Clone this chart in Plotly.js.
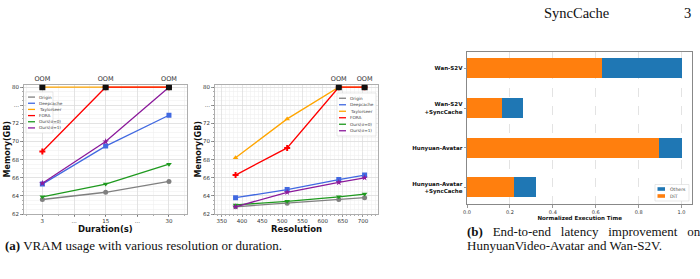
<!DOCTYPE html>
<html>
<head>
<meta charset="utf-8">
<script src="https://cdn.plot.ly/plotly-3.0.1.min.js"></script>
<style>
  html, body { margin: 0; padding: 0; background: #fff; }
  #fig { width: 700px; height: 279px; }
</style>
</head>
<body>
<div id="fig"></div>
<script>
// ---- data -------------------------------------------------------------
const seriesNames = ['Origin', 'Deepcache', 'Taylorseer', 'FORA', 'Ours(σ=0)', 'Ours(σ=1)'];
const seriesColors = ['#808080', '#4169e1', '#ffa500', '#ff0000', '#1f9a1f', '#8b1a9b'];
const seriesSymbols = ['circle', 'square', 'triangle-up', 'cross', 'triangle-down', 'star'];

// 80 GB = out of memory (OOM)
const OOM_GB = 80;

// Memory vs. duration
const durations = ['3', '15', '30'];
const durTickLabels = ['3', '...', '15', '...', '30'];
const memOriginDur     = [63.6, 64.4, 65.6];
const memDeepcacheDur  = [65.3, 69.5, 72.9];
const memTaylorDur     = [80, 80, 80];
const memForaDur       = [68.9, 80, 80];
const memOurs0Dur      = [63.9, 65.3, 67.5];
const memOurs1Dur      = [65.4, 70.0, 80];

// Memory vs. resolution
const resolutions = [384, 512, 640, 704];
const memOriginRes     = [62.8, 63.2, 63.6, 63.8];
const memDeepcacheRes  = [63.8, 64.7, 65.8, 66.3];
const memTaylorRes     = [68.2, 72.5, 80, 80];
const memForaRes       = [66.3, 69.3, 80, 80];
const memOurs0Res      = [63.0, 63.4, 63.9, 64.2];
const memOurs1Res      = [62.8, 64.4, 65.5, 66.0];

// Normalized end-to-end latency
const models = ['Wan-S2V', 'Wan-S2V<br>+SyncCache', 'Hunyuan-Avatar', 'Hunyuan-Avatar<br>+SyncCache'];
const ditTime    = [0.627, 0.165, 0.895, 0.217];
const othersTime = [0.373, 0.095, 0.105, 0.105];

const memTickVals  = [62, 64, 66, 68, 70, 72, 74, 76];
const memTickText  = ['62', '64', '66', '68', '70', '72', '...', '80'];

// ---- helpers ----------------------------------------------------------
const W = 700, H = 279;
const px = x => x / W;
const py = y => 1 - y / H;
// the memory axis is broken between 72 and 80: OOM sits one gap above "..."
const memPos = v => (v >= OOM_GB ? 76 : v);

const durSeries = [memOriginDur, memDeepcacheDur, memTaylorDur, memForaDur, memOurs0Dur, memOurs1Dur];
const resSeries = [memOriginRes, memDeepcacheRes, memTaylorRes, memForaRes, memOurs0Res, memOurs1Res];
const durX = durations.map((d, i) => 2 * i);   // categories sit on every other tick

const traces = [];
function lineTraces(xs, series, xa, ya) {
  series.forEach((vals, k) => {
    traces.push({
      type: 'scatter', mode: 'lines+markers', xaxis: xa, yaxis: ya,
      x: xs, y: vals.map(memPos), name: seriesNames[k], showlegend: false,
      line: { color: seriesColors[k], width: 1.3 },
      marker: { color: seriesColors[k], symbol: seriesSymbols[k], size: 5 },
      hoverinfo: 'skip'
    });
  });
  // black squares at every x where some method runs out of memory
  const oomX = xs.filter((x, i) => series.some(s => s[i] >= OOM_GB));
  traces.push({
    type: 'scatter', mode: 'markers+text', xaxis: xa, yaxis: ya,
    x: oomX, y: oomX.map(() => memPos(OOM_GB)), showlegend: false,
    marker: { color: '#111', symbol: 'square', size: 6 },
    text: oomX.map(() => 'OOM'), textposition: 'top center',
    textfont: { family: 'DejaVu Sans', size: 6.5, color: '#333' },
    cliponaxis: false, hoverinfo: 'skip'
  });
}
lineTraces(durX, durSeries, 'x', 'y');
lineTraces(resolutions, resSeries, 'x2', 'y2');

traces.push({
  type: 'bar', orientation: 'h', xaxis: 'x3', yaxis: 'y3', name: 'DiT',
  x: ditTime, y: models, marker: { color: '#ff7f0e' }, width: 0.5, showlegend: false, hoverinfo: 'skip'
});
traces.push({
  type: 'bar', orientation: 'h', xaxis: 'x3', yaxis: 'y3', name: 'Others',
  x: othersTime, y: models, marker: { color: '#1f77b4' }, width: 0.5, showlegend: false, hoverinfo: 'skip'
});

// ---- axes -------------------------------------------------------------
const tickFont = { family: 'DejaVu Sans', size: 5.5, color: '#333' };
const gridCol = '#dcdcdc', minorCol = '#eeeeee', frameCol = '#9a9a9a';
const plotTop = 84.5, plotBot = 214;
const axisTitleFont = { family: 'DejaVu Sans', size: 8.5, color: '#111' };

function memAxis(anchor) {
  return {
    anchor: anchor, domain: [py(plotBot), py(plotTop)], range: [62, 76.3],
    tickvals: memTickVals, ticktext: memTickText, tickfont: tickFont,
    ticks: 'outside', ticklen: 3, tickcolor: '#555', tickwidth: 0.6,
    showgrid: true, gridcolor: gridCol, gridwidth: 0.7,
    minor: { dtick: 0.5, showgrid: true, gridcolor: minorCol, gridwidth: 0.5, ticks: 'outside', ticklen: 1.5, tickcolor: '#777' },
    showline: true, mirror: true, linecolor: frameCol, linewidth: 0.8,
    zeroline: false, fixedrange: true,
    title: { text: '<b>Memory(GB)</b>', font: { family: 'DejaVu Sans', size: 8, color: '#111' }, standoff: 0 }
  };
}

const layout = {
  width: W, height: H, margin: { l: 0, r: 0, t: 0, b: 0 },
  paper_bgcolor: '#fff', plot_bgcolor: '#fff', showlegend: false,
  barmode: 'stack', bargap: 0.5,
  xaxis: {
    anchor: 'y', domain: [px(24), px(187)], range: [-0.58, 4.57],
    tickvals: [0, 1, 2, 3, 4], ticktext: durTickLabels, tickfont: tickFont,
    ticks: 'outside', ticklen: 2, tickcolor: '#555', tickwidth: 0.6,
    showgrid: true, gridcolor: gridCol, gridwidth: 0.7,
    minor: { dtick: 0.5, showgrid: true, gridcolor: minorCol, gridwidth: 0.5, ticks: 'outside', ticklen: 1.2, tickcolor: '#777' },
    showline: true, mirror: true, linecolor: frameCol, linewidth: 0.8, zeroline: false
  },
  yaxis: memAxis('x'),
  xaxis2: {
    anchor: 'y2', domain: [px(215), px(378.3)], range: [333, 738],
    tick0: 350, dtick: 50, tickfont: tickFont,
    ticks: 'outside', ticklen: 2, tickcolor: '#555', tickwidth: 0.6,
    showgrid: true, gridcolor: gridCol, gridwidth: 0.7,
    minor: { dtick: 10, showgrid: true, gridcolor: minorCol, gridwidth: 0.5, ticks: 'outside', ticklen: 1.2, tickcolor: '#777' },
    showline: true, mirror: true, linecolor: frameCol, linewidth: 0.8, zeroline: false
  },
  yaxis2: memAxis('x2'),
  xaxis3: {
    anchor: 'y3', domain: [px(467), px(692.3)], range: [0, 1.05],
    tick0: 0, dtick: 0.2, tickformat: '.1f', tickfont: { family: 'DejaVu Sans', size: 5, color: '#333' },
    ticks: 'outside', ticklen: 2.5, tickcolor: '#555', tickwidth: 0.6,
    showgrid: true, gridcolor: '#d0d0d0', gridwidth: 0.6, griddash: 'dash',
    showline: true, mirror: true, linecolor: '#888', linewidth: 1, zeroline: false,
    title: { text: '<b>Normalized Execution Time</b>', font: { family: 'DejaVu Sans', size: 5.5, color: '#111' }, standoff: 2 }
  },
  yaxis3: {
    anchor: 'x3', domain: [py(204), py(51.7)], type: 'category',
    categoryorder: 'array', categoryarray: models, range: [3.42, -0.42],
    tickfont: { family: 'DejaVu Sans', size: 5.5, color: '#111', weight: 'bold' },
    ticks: 'outside', ticklen: 2.5, tickcolor: '#555', tickwidth: 0.6,
    showgrid: false, showline: true, mirror: true, linecolor: '#888', linewidth: 1, zeroline: false
  },
  shapes: [], annotations: []
};

// x-axis titles of the two memory panels, set just under the tick labels
layout.annotations.push(
  { xref: 'x', yref: 'paper', x: 2, y: py(229), xanchor: 'center', yanchor: 'middle', showarrow: false,
    text: '<b>Duration(s)</b>', font: axisTitleFont },
  { xref: 'x2', yref: 'paper', x: 535.5, y: py(229), xanchor: 'center', yanchor: 'middle', showarrow: false,
    text: '<b>Resolution</b>', font: axisTitleFont }
);

// ---- hand-built compact legends --------------------------------------
function addLineLegend(x0, y0, x1, y1) {
  layout.shapes.push({ type: 'rect', xref: 'paper', yref: 'paper', x0: px(x0), x1: px(x1), y0: py(y1), y1: py(y0),
    line: { color: '#d8d8d8', width: 0.6 }, fillcolor: 'rgba(255,255,255,0.85)', layer: 'above' });
  const step = (y1 - y0 - 4) / seriesNames.length;
  seriesNames.forEach((n, k) => {
    const yy = y0 + 2 + step * (k + 0.5);
    layout.shapes.push({ type: 'line', xref: 'paper', yref: 'paper', x0: px(x0 + 2), x1: px(x0 + 9), y0: py(yy), y1: py(yy),
      line: { color: seriesColors[k], width: 1.3 }, layer: 'above' });
    layout.annotations.push({ xref: 'paper', yref: 'paper', x: px(x0 + 11), y: py(yy), xanchor: 'left', yanchor: 'middle',
      text: n, showarrow: false, font: { family: 'DejaVu Sans', size: 4.2, color: '#444' } });
  });
}
addLineLegend(26, 92, 53, 133);
addLineLegend(337, 93, 376, 136);

// bar legend: Others above DiT
const barLegend = [['Others', '#1f77b4'], ['DiT', '#ff7f0e']];
layout.shapes.push({ type: 'rect', xref: 'paper', yref: 'paper', x0: px(655), x1: px(689), y0: py(201), y1: py(184.5),
  line: { color: '#d8d8d8', width: 0.6 }, fillcolor: '#fff', layer: 'above' });
barLegend.forEach(([n, c], k) => {
  const yy = 189 + k * 7;
  layout.shapes.push({ type: 'rect', xref: 'paper', yref: 'paper', x0: px(657.5), x1: px(665), y0: py(yy + 1.8), y1: py(yy - 1.8),
    line: { width: 0 }, fillcolor: c, layer: 'above' });
  layout.annotations.push({ xref: 'paper', yref: 'paper', x: px(668), y: py(yy), xanchor: 'left', yanchor: 'middle',
    text: n, showarrow: false, font: { family: 'DejaVu Sans', size: 4.6, color: '#444' } });
});

// ---- page text --------------------------------------------------------
const serif = 'Liberation Serif';
const gap = ' &nbsp;&nbsp;';   // widened word gaps of a justified caption line
layout.annotations.push(
  { xref: 'paper', yref: 'paper', x: px(542), y: py(13), xanchor: 'left', yanchor: 'middle', showarrow: false,
    text: 'SyncCache', font: { family: serif, size: 14.5, color: '#111' } },
  { xref: 'paper', yref: 'paper', x: px(693), y: py(13), xanchor: 'right', yanchor: 'middle', showarrow: false,
    text: '3', font: { family: serif, size: 14.5, color: '#111' } },
  { xref: 'paper', yref: 'paper', x: px(3), y: py(245), xanchor: 'left', yanchor: 'middle', showarrow: false,
    text: '<b>(a)</b> VRAM usage with various resolution or duration.', font: { family: serif, size: 13, color: '#111' } },
  { xref: 'paper', yref: 'paper', x: px(465), y: py(231), xanchor: 'left', yanchor: 'middle', showarrow: false,
    text: ['<b>(b)</b>', 'End-to-end', 'latency', 'improvement', 'on'].join(gap), font: { family: serif, size: 13, color: '#111' } },
  { xref: 'paper', yref: 'paper', x: px(465), y: py(245), xanchor: 'left', yanchor: 'middle', showarrow: false,
    text: 'HunyuanVideo-Avatar and Wan-S2V.', font: { family: serif, size: 13, color: '#111' } }
);

Plotly.newPlot('fig', traces, layout, { staticPlot: true, displayModeBar: false });
</script>
</body>
</html>
